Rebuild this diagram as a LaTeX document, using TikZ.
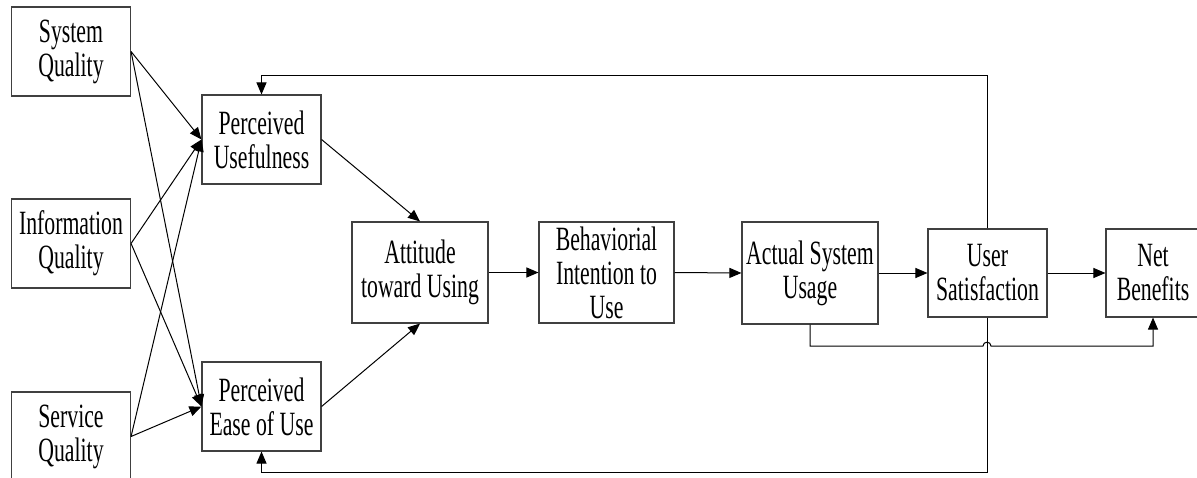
\documentclass[tikz,border=0pt]{standalone}
\usepackage{fontspec}
\setmainfont[FakeStretch=0.64]{Liberation Serif}
\usetikzlibrary{arrows.meta}
\begin{document}
\begin{tikzpicture}[x=1pt,y=-1pt,
  box/.style={draw=black!75, line width=1.1pt, rectangle, inner sep=0pt, align=center,
    font=\fontsize{34}{34}\selectfont},
  conn/.style={line width=1pt, -{Triangle[length=12pt,width=10pt]}}]
\useasboundingbox (0,0) rectangle (1197,477);
\begin{scope}
\clip (0,0) rectangle (1197,477);
\node[box, minimum width=119pt, minimum height=89pt] (sq) at (71,51.5) {System\\Quality};
\node[box, minimum width=119pt, minimum height=89pt] (iq) at (71,243.5) {Information\\Quality};
\node[box, minimum width=119pt, minimum height=89pt] (svq) at (71,436.5) {Service\\Quality};
\node[box, minimum width=119pt, minimum height=89pt] (pu) at (261.5,139.5) {Perceived\\Usefulness};
\node[box, minimum width=119pt, minimum height=89pt] (peu) at (261.5,406.5) {Perceived\\Ease of Use};
\node[box, minimum width=136pt, minimum height=101pt] (att) at (420,272.5) {Attitude\\toward Using};
\node[box, minimum width=135pt, minimum height=101pt] (bi) at (606.5,272.5) {Behaviorial\\Intention to\\Use};
\node[box, minimum width=136pt, minimum height=102pt] (asu) at (810,273) {Actual System\\Usage};
\node[box, minimum width=119pt, minimum height=88pt] (us) at (987.5,273) {User\\Satisfaction};
\node[box, minimum width=94pt, minimum height=88pt] (nb) at (1153,273) {Net\\Benefits};
\end{scope}

\draw[conn] (sq.east) -- (pu.west);
\draw[conn] (sq.east) -- (peu.west);
\draw[conn] (iq.east) -- (pu.west);
\draw[conn] (iq.east) -- (peu.west);
\draw[conn] (svq.east) -- (pu.west);
\draw[conn] (svq.east) -- (peu.west);

\draw[conn] (pu.east) -- (att.north);
\draw[conn] (peu.east) -- (att.south);
\draw[conn] (att.east) -- (bi.west);
\draw[conn] (bi.east) -- (asu.west);
\draw[conn] (asu.east) -- (us.west);
\draw[conn] (us.east) -- (nb.west);

\coordinate (j1) at (983,346);
\coordinate (j2) at (991,346);
\draw[conn] (asu.south) -- (asu.south |- j1) -- (j1) .. controls (983,341) and (991,341) .. (j2) -- (nb.south |- j2) -- (nb.south);

\coordinate (tp) at (987,75);
\coordinate (bt) at (987,472);
\draw[conn] (us.north -| tp) -- (tp) -- (pu.north |- tp) -- (pu.north);
\draw[conn] (us.south -| bt) -- (bt) -- (peu.south |- bt) -- (peu.south);
\end{tikzpicture}
\end{document}
